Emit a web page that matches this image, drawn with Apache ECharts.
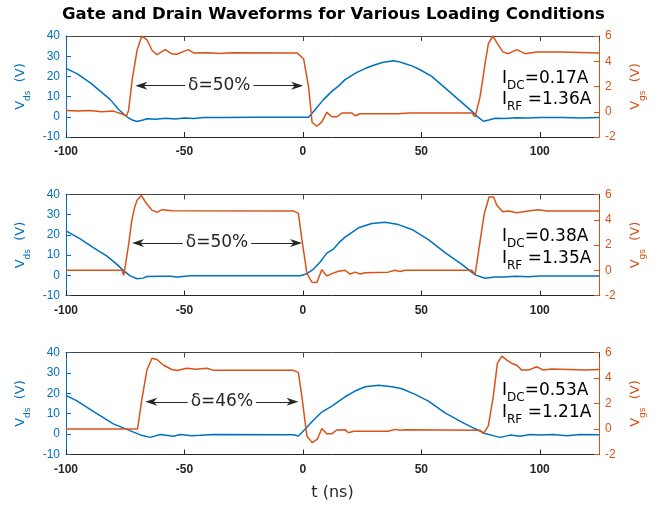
<!DOCTYPE html>
<html>
<head>
<meta charset="utf-8">
<script src="https://cdn.jsdelivr.net/npm/echarts@6/dist/echarts.min.js"></script>
<style>
  html, body { margin: 0; padding: 0; background: #fff; }
  #main { width: 667px; height: 508px; }
</style>
</head>
<body>
<div id="main"></div>
<script>
// time axis ticks
var tTicks = [-100, -50, 0, 50, 100];

// plot 1 (delta = 50%, Idc 0.17A)
var t1ds = [-100, -95.4, -89.7, -81.3, -77.8, -74.3, -72, -70, -67.5, -65.8, -62, -58, -54, -50, -46, -42, -35, -20, -5, 2.4, 5.2, 8.7, 12.2, 15, 17.8, 22.8, 26.5, 30.5, 34, 38.2, 40.5, 43.2, 46, 49.5, 54.4, 60, 65.7, 71.3, 73.4, 76.2, 78.5, 81.1, 85, 90, 95, 100, 110, 117, 125];
var vds1 = [24.0, 21.4, 16.8, 8.5, 3.6, 0, -1.6, -2.3, -1.6, -1.0, -1.2, -0.7, -1.1, -0.6, -0.9, -0.4, -0.3, -0.2, -0.2, -0.2, 3.6, 8.5, 12.6, 15.2, 18.4, 22, 24, 25.8, 27, 27.8, 27.3, 26.3, 25.2, 23.3, 20, 14.3, 8.5, 2.8, 0.3, -2.2, -1.6, -0.7, -0.9, -0.5, -0.6, -0.4, -0.4, -0.6, -0.4];
var t1gs = [-100, -95, -90, -85, -80, -76, -74.5, -73.6, -72, -70, -68, -65.8, -63.7, -61.6, -58.1, -55.5, -53.2, -50, -48.3, -46.2, -40, -35, -30, -2.5, 0.3, 2.4, 3.9, 5.9, 8, 10.1, 12.2, 14.3, 16.5, 20.7, 22, 24.2, 40, 45, 71.3, 72.7, 74.8, 76.9, 78.3, 80.2, 81.8, 84.4, 86.8, 90.3, 93.8, 98.7, 108.6, 117, 125];
var vgs1 = [0.1, 0.05, 0.1, 0.0, 0.05, -0.2, -0.35, 0.1, 2.6, 4.87, 6.0, 5.7, 4.87, 4.53, 4.92, 4.6, 4.55, 4.8, 4.92, 4.66, 4.68, 4.62, 4.68, 4.66, 4.2, 1.97, -0.85, -1.15, -0.8, -0.05, -0.4, -0.4, -0.1, -0.1, -0.32, -0.16, -0.15, -0.1, -0.1, -0.4, 1.2, 3.8, 5.4, 6.0, 5.5, 4.74, 4.6, 4.92, 4.6, 4.74, 4.74, 4.7, 4.66];

// plot 2 (delta = 50%, Idc 0.38A)
var t2ds = [-100, -94, -88.3, -82.7, -78.5, -75.6, -72.9, -70, -67.5, -65.8, -60, -56, -53, -47.4, -30, -1.1, 1.7, 4.5, 7.3, 10.1, 12.9, 15.7, 17.8, 23.5, 29.1, 34.7, 40.3, 46, 53, 60, 67.1, 72.7, 76.9, 81.1, 85, 90, 95, 100, 125];
var vds2 = [22, 18, 13.6, 9.5, 5.4, 2.2, -0.3, -1.7, -1.4, -0.6, -0.5, -0.5, -0.8, -0.2, -0.2, -0.2, 0.8, 3.1, 6.6, 11, 13, 16.7, 18.9, 23.5, 25.6, 26.3, 25.1, 22.7, 17.7, 11.2, 5.4, 0.2, -1.5, -0.8, -0.9, -0.5, -0.7, -0.4, -0.4];
var t2gs = [-100, -76.4, -75.6, -73.6, -72.2, -71, -70, -68.2, -66.1, -63.7, -61.6, -59.5, -55, -4, -1.9, -0.4, 1.7, 3.8, 5.9, 8, 10.1, 12.5, 15, 17.8, 19.9, 22, 24.2, 26.3, 36, 38.9, 41, 43.2, 71.3, 72.7, 74.8, 76.6, 78.6, 80.5, 81.8, 84.4, 86.8, 90.3, 95.2, 99.4, 103, 125];
var vgs2 = [0, 0, -0.4, 2.0, 3.97, 5.0, 5.55, 5.92, 5.3, 4.76, 4.58, 4.8, 4.72, 4.7, 4.5, 2.4, -0.24, -0.95, -0.97, 0.05, -0.45, -0.25, -0.08, 0, -0.3, -0.15, -0.3, -0.2, -0.15, 0, -0.1, 0, 0, -0.35, 2.3, 4.5, 5.8, 5.8, 5.16, 4.63, 4.7, 4.55, 4.7, 4.8, 4.7, 4.7];

// plot 3 (delta = 46%, Idc 0.53A)
var t3ds = [-100, -95.4, -88.3, -80, -74.3, -68.6, -64.4, -60.2, -54.6, -51.8, -47, -43.3, -37.7, -4, -1.9, 1, 4.5, 8, 12.2, 17.8, 22, 26.3, 31.9, 37.6, 41.8, 47.4, 53, 60, 67.1, 72.7, 76.9, 81.1, 83.3, 87.5, 91.7, 95.9, 100.1, 105.7, 111.4, 117, 125];
var vds3 = [19, 16.3, 11, 5, 2.3, -0.4, -1.6, -0.2, -1.1, -0.2, -0.8, -0.6, -0.2, -0.3, -0.9, 2.5, 6.9, 10.8, 13.7, 18.3, 21.1, 23.2, 23.9, 23.2, 22.2, 19.5, 16.2, 10.4, 5.9, 2.6, 0.3, -1, -1.6, -0.5, -1, -0.2, -0.5, -0.2, -0.8, -0.2, -0.3];
var t3gs = [-100, -69.8, -67.9, -65.8, -63.7, -61.6, -58.8, -55.3, -53.2, -49, -45, -40.5, -37.7, -4, -1.9, -0.4, 1.7, 3.9, 6.1, 8, 10.1, 12.2, 14.3, 17.8, 19.2, 21.4, 36, 38.9, 41, 43.2, 74.8, 76.2, 78.3, 80.4, 82.1, 84, 86.1, 88.2, 90.3, 92.4, 95.2, 98.7, 101.5, 105, 119.4, 125];
var vgs3 = [0, 0, 2.4, 4.65, 5.55, 5.45, 5.0, 4.67, 4.58, 4.76, 4.68, 4.76, 4.6, 4.6, 4.42, 2.5, -0.55, -1.07, -0.8, 0.04, -0.38, -0.38, -0.08, -0.05, -0.3, -0.18, -0.18, -0.03, -0.1, -0.05, -0.1, -0.37, 0.25, 2.6, 5.14, 5.71, 5.4, 5.14, 5.0, 4.62, 4.62, 4.88, 4.62, 4.7, 4.62, 4.66];

var dutyText = ['δ=50%', 'δ=50%', 'δ=46%'];
var arrowT = [[-68.2, -2.4], [-69.6, -2.9], [-64, -4.4]];
var arrowV = [15.4, 16, 15.8];
var idcText = ['0.17A', '0.38A', '0.53A'];
var irfText = ['1.36A', '1.35A', '1.21A'];

var blue = '#0072BD', orange = '#D95319', dark = '#262626';
var gridTops = [36, 194.5, 352.5];
var gridH = [101, 101, 102];

function zip(t, v) {
    var out = [];
    for (var i = 0; i < t.length; i++) out.push([t[i], v[i]]);
    return out;
}

var dsT = [t1ds, t2ds, t3ds], dsV = [vds1, vds2, vds3];
var gsT = [t1gs, t2gs, t3gs], gsV = [vgs1, vgs2, vgs3];

var arrowPath = 'path://M5,0 L10,14 L5,10 L0,14 Z';

var grids = [], xAxes = [], yAxes = [], series = [], graphics = [];
for (var k = 0; k < 3; k++) {
    grids.push({left: 66, right: 68, top: gridTops[k], height: gridH[k]});
    xAxes.push({
        type: 'value', gridIndex: k, min: -100, max: 125, interval: 50,
        axisLine: {onZero: false, lineStyle: {color: dark}},
        axisTick: {inside: true, length: 5, lineStyle: {color: dark}},
        axisLabel: {color: dark, fontSize: 12, fontWeight: 'bold', fontFamily: 'Liberation Sans', margin: 9, showMaxLabel: false},
        splitLine: {show: false},
        name: k == 2 ? 't (ns)' : '',
        nameLocation: 'middle', nameGap: 30,
        nameTextStyle: {fontSize: 16, color: dark, fontFamily: 'DejaVu Sans'}
    });
    xAxes.push({
        type: 'value', gridIndex: k, min: -100, max: 125, interval: 50, position: 'top',
        axisLine: {onZero: false, lineStyle: {color: '#444'}},
        axisTick: {inside: true, length: 5, lineStyle: {color: '#444'}},
        axisLabel: {show: false}, splitLine: {show: false}
    });
    yAxes.push({
        type: 'value', gridIndex: k, min: -10, max: 40, interval: 10,
        axisLine: {show: true, onZero: false, lineStyle: {color: blue}},
        axisTick: {show: true, inside: true, length: 5, lineStyle: {color: blue}},
        axisLabel: {color: blue, fontSize: 12, fontFamily: 'Liberation Sans', margin: 6},
        splitLine: {show: false},
        name: '{a|V}{b|ds}{a|  (V)}', nameLocation: 'middle', nameRotate: 90, nameGap: 21,
        nameTextStyle: {
            rich: {
                a: {fontSize: 13, color: blue, fontFamily: 'DejaVu Sans', lineHeight: 22},
                b: {fontSize: 9, color: blue, fontFamily: 'DejaVu Sans', verticalAlign: 'bottom'}
            }
        }
    });
    yAxes.push({
        type: 'value', gridIndex: k, min: -2, max: 6, interval: 2, position: 'right',
        axisLine: {show: true, onZero: false, lineStyle: {color: orange}},
        axisTick: {show: true, inside: true, length: 5, lineStyle: {color: orange}},
        axisLabel: {color: orange, fontSize: 12, fontFamily: 'Liberation Sans', margin: 6},
        splitLine: {show: false},
        name: '{a|V}{b|gs}{a|  (V)}', nameLocation: 'middle', nameRotate: 90, nameGap: 26,
        nameTextStyle: {
            rich: {
                a: {fontSize: 13, color: orange, fontFamily: 'DejaVu Sans', lineHeight: 22},
                b: {fontSize: 9, color: orange, fontFamily: 'DejaVu Sans', verticalAlign: 'bottom'}
            }
        }
    });
    series.push({
        type: 'line', xAxisIndex: 2 * k, yAxisIndex: 2 * k, data: zip(dsT[k], dsV[k]),
        showSymbol: false, symbol: 'none', lineStyle: {color: blue, width: 1.5}, itemStyle: {color: blue},
        z: 3, silent: true,
        markLine: {
            silent: true, symbol: [arrowPath, arrowPath], symbolSize: [8, 12],
            lineStyle: {color: dark, width: 1, type: 'solid'},
            label: {
                show: true, position: 'insideMiddle', formatter: dutyText[k],
                fontSize: 17, color: dark, fontFamily: 'DejaVu Sans',
                backgroundColor: '#fff', padding: [0, 3]
            },
            data: [[{coord: [arrowT[k][0], arrowV[k]]}, {coord: [arrowT[k][1], arrowV[k]]}]]
        }
    });
    series.push({
        type: 'line', xAxisIndex: 2 * k, yAxisIndex: 2 * k + 1, data: zip(gsT[k], gsV[k]),
        showSymbol: false, symbol: 'none', lineStyle: {color: orange, width: 1.5}, itemStyle: {color: orange},
        z: 4, silent: true
    });
}

var labY = [[77, 97], [235, 256], [389, 410]];
var richI = {
    a: {fontSize: 17, color: dark, fontFamily: 'DejaVu Sans', lineHeight: 26},
    b: {fontSize: 12, color: dark, fontFamily: 'DejaVu Sans', verticalAlign: 'bottom'}
};
for (var j = 0; j < 3; j++) {
    graphics.push({type: 'text', left: 502, top: labY[j][0] - 7, z: 10,
        style: {text: '{a|I}{b|DC}{a|=' + idcText[j] + '}', rich: richI}});
    graphics.push({type: 'text', left: 502, top: labY[j][1] - 6, z: 10,
        style: {text: '{a|I}{b|RF}{a| =' + irfText[j] + '}', rich: richI}});
}

var chart = echarts.init(document.getElementById('main'));
chart.setOption({
    animation: false,
    title: {
        text: 'Gate and Drain Waveforms for Various Loading Conditions',
        left: 'center', top: 1,
        textStyle: {fontSize: 16.5, fontWeight: 'bold', color: '#000', fontFamily: 'DejaVu Sans'}
    },
    grid: grids,
    xAxis: xAxes,
    yAxis: yAxes,
    series: series,
    graphic: graphics
});
</script>
</body>
</html>
